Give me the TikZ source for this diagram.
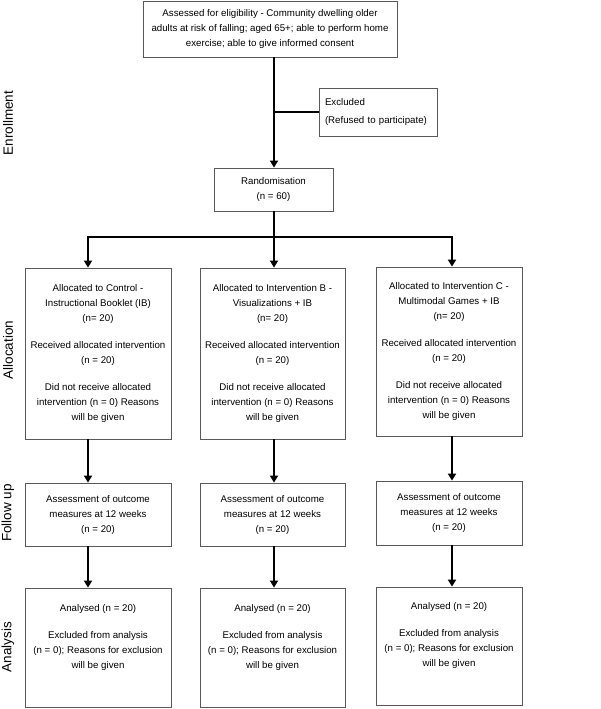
\documentclass[tikz,border=0pt]{standalone}
\usepackage{fontspec}
\setmainfont{Liberation Sans}
\usepackage{tikz}
\usetikzlibrary{calc, positioning, arrows.meta}

\begin{document}
\begin{tikzpicture}[x=1pt,y=-1pt,
    box/.style={draw=black!65, line width=0.8pt, align=center, inner sep=2pt,
        font=\fontsize{9.7}{15}\selectfont},
    flow/.style={line width=1.8pt},
    arr/.style={flow, -{Triangle[width=8pt,length=7pt]}},
    phase/.style={rotate=90, font=\fontsize{13.5}{16}\selectfont}]
        \useasboundingbox (0,0) rectangle (600,709);
        % Enrollment
        \node[box, minimum width=254pt, minimum height=56pt] (elig) at (270,29)
            {Assessed for eligibility - Community dwelling older\\
             adults at risk of falling; aged 65+; able to perform home\\
             exercise; able to give informed consent};
        \node[box, align=left, inner xsep=5.5pt, text width=107pt, minimum height=48pt] (excl) at (378.5,112)
            {Excluded\\[3pt](Refused to participate)};
        \node[box, minimum width=119pt, minimum height=43pt] (rand) at (273.5,189.5)
            {Randomisation\\(n = 60)};
        % Columns
        \coordinate (c1) at (88,237);
        \coordinate (c2) at (274,237);
        \coordinate (c3) at (452,237);
        % Allocation
        \node[box, minimum width=146pt, minimum height=171pt] (alloc1) at (98,353.5)
            {Allocated to Control -\\Instructional Booklet (IB)\\(n= 20)\\[12pt]
             Received allocated intervention\\(n = 20)\\[12pt]
             Did not receive allocated\\intervention (n = 0) Reasons\\will be given};
        \node[box, minimum width=145pt, minimum height=171pt] (alloc2) at (272.5,353.5)
            {Allocated to Intervention B -\\Visualizations + IB\\(n= 20)\\[12pt]
             Received allocated intervention\\(n = 20)\\[12pt]
             Did not receive allocated\\intervention (n = 0) Reasons\\will be given};
        \node[box, minimum width=146pt, minimum height=169pt] (alloc3) at (449,351.5)
            {Allocated to Intervention C -\\Multimodal Games + IB\\(n= 20)\\[12pt]
             Received allocated intervention\\(n = 20)\\[12pt]
             Did not receive allocated\\intervention (n = 0) Reasons\\will be given};
        % Follow up
        \node[box, minimum width=146pt, minimum height=63pt] (fu1) at (98,514.5)
            {Assessment of outcome\\measures at 12 weeks\\(n = 20)};
        \node[box, minimum width=145pt, minimum height=63pt] (fu2) at (272.5,514.5)
            {Assessment of outcome\\measures at 12 weeks\\(n = 20)};
        \node[box, minimum width=146pt, minimum height=64pt] (fu3) at (449,513)
            {Assessment of outcome\\measures at 12 weeks\\(n = 20)};
        % Analysis
        \node[box, minimum width=146pt, minimum height=119pt] (an1) at (98,647.5)
            {Analysed (n = 20)\\[12pt]Excluded from analysis\\(n = 0); Reasons for exclusion\\will be given\\[8pt]};
        \node[box, minimum width=145pt, minimum height=119pt] (an2) at (272.5,647.5)
            {Analysed (n = 20)\\[12pt]Excluded from analysis\\(n = 0); Reasons for exclusion\\will be given\\[8pt]};
        \node[box, minimum width=146pt, minimum height=118pt] (an3) at (449,646)
            {Analysed (n = 20)\\[12pt]Excluded from analysis\\(n = 0); Reasons for exclusion\\will be given\\[8pt]};
        % Phase labels
        \node[phase] (lenrol) at (8,123) {Enrollment};
        \node[phase] (lalloc) at (8,350) {Allocation};
        \node[phase] (lfollow) at (8,513) {Follow up};
        \node[phase] (lanal) at (8,647) {Analysis};
        % Connectors
        \draw[arr] (elig.south -| c2) -- (rand.north -| c2);
        \draw[flow] (c2 |- excl.west) -- (excl.west);
        \draw[flow] (rand.south -| c2) -- (c2);
        \draw[flow] ([xshift=-0.9pt]c1) -- ([xshift=0.9pt]c3);
        \foreach \i in {1,2,3} {
          \draw[arr] (c\i) -- (alloc\i.north -| c\i);
          \draw[arr] (alloc\i.south -| c\i) -- (fu\i.north -| c\i);
          \draw[arr] (fu\i.south -| c\i) -- (an\i.north -| c\i);
        }
    \end{tikzpicture}
\end{document}
